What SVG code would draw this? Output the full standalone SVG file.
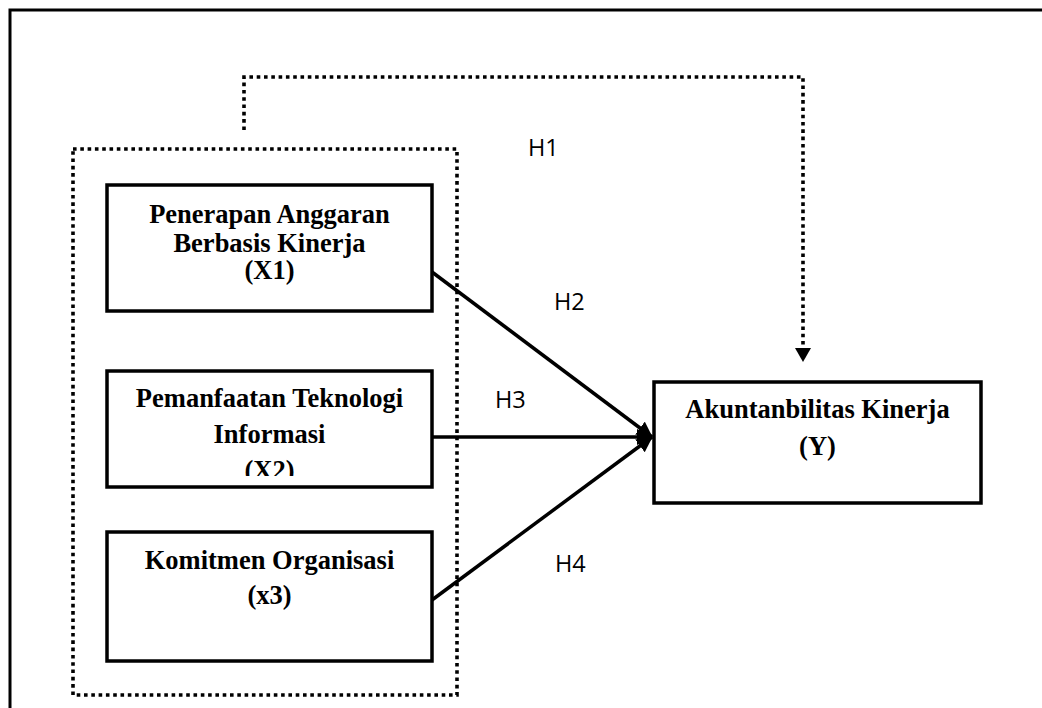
<svg xmlns="http://www.w3.org/2000/svg" width="1042" height="708" viewBox="0 0 1042 708">
<style>
.box{fill:#fff;stroke:#000;stroke-width:3.5}
.t{font-family:"Liberation Serif","Times New Roman",serif;font-weight:bold;font-size:26.5px;text-anchor:middle;fill:#000}
.h{font-family:"Open Sans","Liberation Sans",sans-serif;font-size:23.5px;fill:#000}
.dot{fill:none;stroke:#000;stroke-width:3.6;stroke-dasharray:3.6 3.7}
.ln{fill:none;stroke:#000;stroke-width:3.5}
</style>
<defs>
<marker id="ah" markerUnits="userSpaceOnUse" markerWidth="18" markerHeight="18" refX="15" refY="8" orient="auto">
<path d="M0,0 L16,8 L0,16 Z" fill="#000"/>
</marker>
<marker id="ahd" markerUnits="userSpaceOnUse" markerWidth="16" markerHeight="18" refX="0" refY="8" orient="auto">
<path d="M0,0 L14,8 L0,16 Z" fill="#000"/>
</marker>
<clipPath id="cx2"><rect x="107" y="371" width="325" height="105"/></clipPath>
</defs>
<rect width="1042" height="708" fill="#fff"/>
<path d="M10,708 L10,10 L1042,10" fill="none" stroke="#000" stroke-width="3"/>
<g id="group-x">
<rect class="dot" x="73" y="149" width="384" height="546"/>
</g>
<g id="connectors">
<path class="dot" d="M244,130 L244,77 L803,77 L803,348" marker-end="url(#ahd)"/>
<line class="ln" x1="432" y1="272" x2="652" y2="437" marker-end="url(#ah)"/>
<line class="ln" x1="432" y1="437" x2="652" y2="437" marker-end="url(#ah)"/>
<line class="ln" x1="432" y1="600" x2="652" y2="437" marker-end="url(#ah)"/>
<text class="h" x="528" y="156">H1</text>
<text class="h" x="554" y="310">H2</text>
<text class="h" x="495" y="408">H3</text>
<text class="h" x="555" y="572">H4</text>
</g>
<g id="x1">
<rect class="box" x="107" y="185" width="325" height="126"/>
<text class="t" x="269.5" y="222.5">Penerapan Anggaran</text>
<text class="t" x="269.5" y="251.5">Berbasis Kinerja</text>
<text class="t" x="269.5" y="279">(X1)</text>
</g>
<g id="x2">
<rect class="box" x="107" y="371" width="325" height="116"/>
<text class="t" x="269.5" y="406.5">Pemanfaatan Teknologi</text>
<text class="t" x="269.5" y="442.5">Informasi</text>
<text class="t" x="269.5" y="479" clip-path="url(#cx2)">(X2)</text>
</g>
<g id="x3">
<rect class="box" x="107" y="532" width="325" height="129"/>
<text class="t" x="269.5" y="569">Komitmen Organisasi</text>
<text class="t" x="269.5" y="604">(x3)</text>
</g>
<g id="y">
<rect class="box" x="654" y="382" width="327" height="121"/>
<text class="t" x="817.5" y="418">Akuntanbilitas Kinerja</text>
<text class="t" x="817.5" y="455">(Y)</text>
</g>
</svg>
